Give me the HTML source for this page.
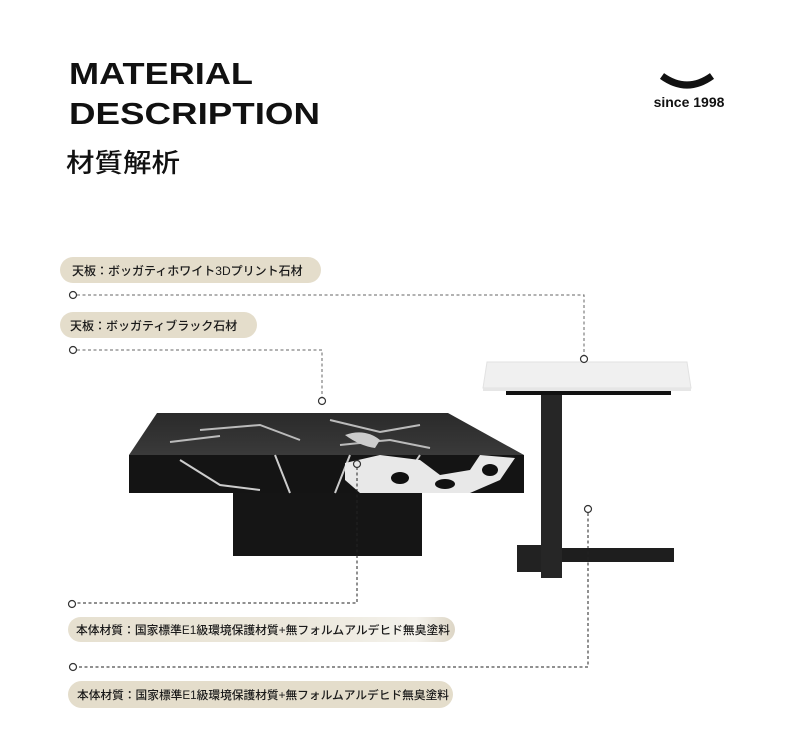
<!DOCTYPE html>
<html><head><meta charset="utf-8"><style>
html,body{margin:0;padding:0;background:#fff;width:790px;height:733px;overflow:hidden}
</style></head><body>
<svg width="790" height="733" viewBox="0 0 790 733" xmlns="http://www.w3.org/2000/svg">
<defs>
<linearGradient id="p3" x1="0" x2="1" y1="0" y2="0">
<stop offset="0" stop-color="#e6e0d0"/><stop offset="0.6" stop-color="#ece8dc"/><stop offset="0.9" stop-color="#f4f2ec"/><stop offset="1" stop-color="#ddd6c6"/>
</linearGradient>
<linearGradient id="top" x1="0" x2="0" y1="0" y2="1"><stop offset="0" stop-color="#2a2a2a"/><stop offset="1" stop-color="#3a3a3a"/></linearGradient>
</defs>
<text x="69" y="84" font-family="Liberation Sans, sans-serif" font-weight="bold" font-size="31" textLength="184" lengthAdjust="spacingAndGlyphs" fill="#111">MATERIAL</text>
<text x="69" y="124" font-family="Liberation Sans, sans-serif" font-weight="bold" font-size="31" textLength="251" lengthAdjust="spacingAndGlyphs" fill="#111">DESCRIPTION</text>
<text x="66" y="172" font-family="Liberation Sans, 'Noto Sans CJK JP', sans-serif" font-size="26" font-weight="500" fill="#111" textLength="114" lengthAdjust="spacingAndGlyphs">材質解析</text>
<path d="M662 76 Q687 94 712 76" stroke="#111" stroke-width="7" fill="none"/>
<text x="689" y="107" text-anchor="middle" font-family="Liberation Sans, sans-serif" font-weight="bold" font-size="14" fill="#111">since 1998</text>

<g font-family="Liberation Sans, 'Noto Sans CJK JP', sans-serif" font-weight="500" fill="#1a1a1a">
<rect x="60" y="257" width="261" height="26" rx="13" fill="#e4ddcb"/>
<text x="72" y="275" font-size="12">天板：ボッガティホワイト3Dプリント石材</text>
<rect x="60" y="312" width="197" height="26" rx="13" fill="#e4ddcb"/>
<text x="70" y="330" font-size="12">天板：ボッガティブラック石材</text>
<rect x="68" y="617" width="387" height="25" rx="12.5" fill="url(#p3)"/>
<text x="76" y="634" font-size="11.5" textLength="374" lengthAdjust="spacingAndGlyphs">本体材質：国家標準E1級環境保護材質+無フォルムアルデヒド無臭塗料</text>
<rect x="68" y="681" width="385" height="27" rx="13.5" fill="#e4ddcb"/>
<text x="77" y="699" font-size="11.5" textLength="372" lengthAdjust="spacingAndGlyphs">本体材質：国家標準E1級環境保護材質+無フォルムアルデヒド無臭塗料</text>
</g>

<!-- black table -->
<rect x="233" y="493" width="189" height="63" fill="#151515"/>
<polygon points="157,413 448,413 524,455 129,455" fill="url(#top)"/>
<rect x="129" y="455" width="395" height="38" fill="#141414"/>
<path d="M200 430 L260 425 L300 440 M330 420 L380 432 L420 425 M340 445 L390 440 L430 448 M170 442 L220 436" stroke="#bbb" stroke-width="2" fill="none"/>
<path d="M345 435 Q365 428 380 440 L375 448 Q360 446 345 435Z" fill="#ccc"/>
<path d="M350 455 L335 493 M275 455 L290 493 M180 460 L220 485 L260 490 M420 455 L400 485" stroke="#ccc" stroke-width="2" fill="none"/>
<path d="M345 463 L380 455 L420 460 L440 475 L470 470 L480 455 L515 458 L500 480 L470 493 L360 493 L345 480Z" fill="#e8e8e8"/>
<ellipse cx="400" cy="478" rx="9" ry="6" fill="#111"/><ellipse cx="445" cy="484" rx="10" ry="5" fill="#111"/><ellipse cx="490" cy="470" rx="8" ry="6" fill="#111"/>

<!-- white table -->
<polygon points="487,362 687,362 691,388 483,388" fill="#f0f0f0" stroke="#e2e2e2"/>
<rect x="483" y="388" width="208" height="3" fill="#e6e6e6"/>
<rect x="506" y="391" width="165" height="4" fill="#111"/>
<rect x="517" y="545" width="24" height="27" fill="#222"/>
<rect x="562" y="548" width="112" height="14" fill="#1e1e1e"/>
<rect x="541" y="395" width="21" height="183" fill="#262626"/>

<!-- connectors -->
<g fill="none" stroke-dasharray="3,2.5" stroke-width="1">
<path d="M77 295 H584 V355" stroke="#666"/>
<path d="M77 350 H322 V397" stroke="#666"/>
<path d="M357 467 V603 H76" stroke="#222"/>
<path d="M588 513 V667 H77" stroke="#222"/>
</g>
<g fill="#fff" stroke-width="1.2">
<circle cx="73" cy="295" r="3.5" stroke="#333"/>
<circle cx="584" cy="359" r="3.5" stroke="#333"/>
<circle cx="73" cy="350" r="3.5" stroke="#333"/>
<circle cx="322" cy="401" r="3.5" stroke="#333"/>
<circle cx="357" cy="464" r="3.5" stroke="#333" fill="none"/>
<circle cx="72" cy="604" r="3.5" stroke="#333"/>
<circle cx="588" cy="509" r="3.5" stroke="#333"/>
<circle cx="73" cy="667" r="3.5" stroke="#333"/>
</g>
</svg>
</body></html>
